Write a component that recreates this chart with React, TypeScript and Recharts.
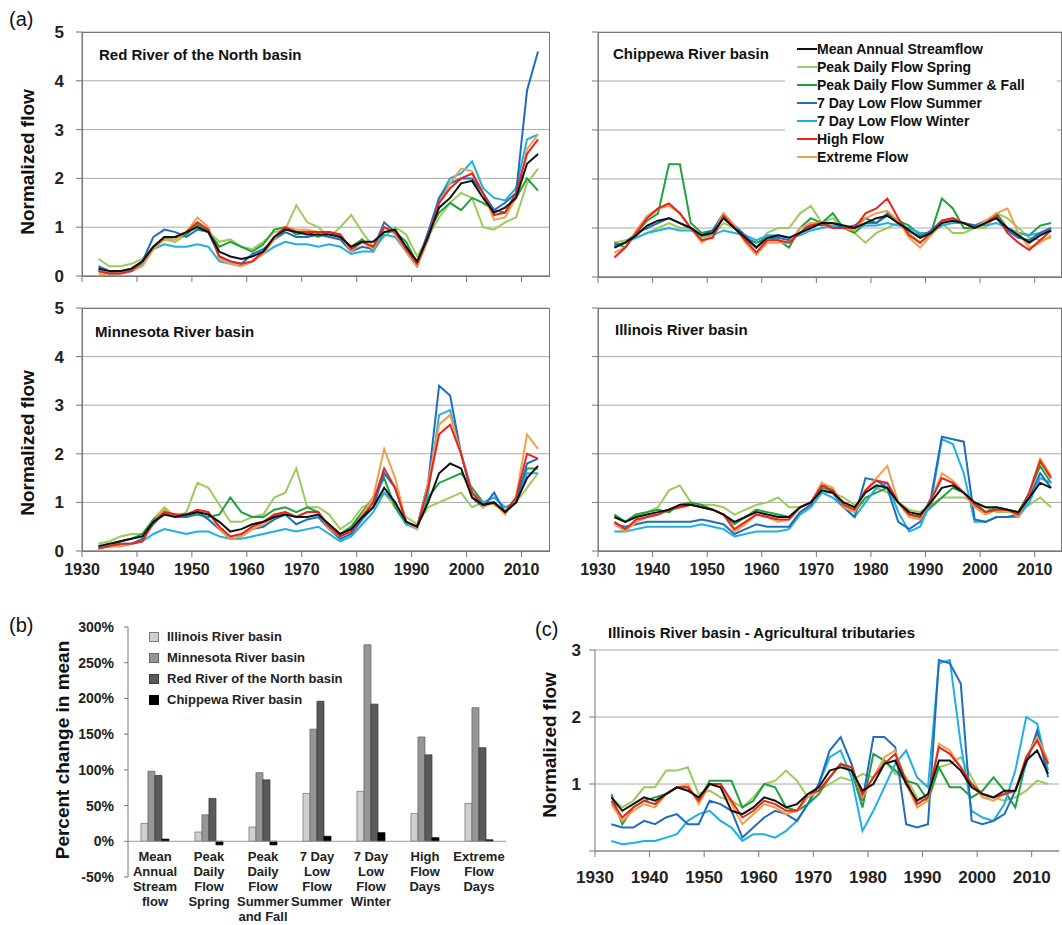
import React from "react";
import { LineChart, Line, XAxis, YAxis, CartesianGrid, BarChart, Bar, ReferenceLine } from "recharts";

const YEARS = Array.from({ length: 41 }, (_, i) => 1933 + i * 2);
const YEAR_TICKS = [1930, 1940, 1950, 1960, 1970, 1980, 1990, 2000, 2010];
const SERIES = ["Mean Annual Streamflow", "Peak Daily Flow Spring", "Peak Daily Flow Summer & Fall", "7 Day Low Flow Summer", "7 Day Low Flow Winter", "High Flow", "Extreme Flow"];
const KEYS = ["mean", "spring", "summerfall", "lowSummer", "lowWinter", "high", "extreme"];
const COLORS: Record<string, string> = {
  mean: "#111111", spring: "#9bcc5a", summerfall: "#1fa23c", lowSummer: "#1f6dbf",
  lowWinter: "#1cb0e8", high: "#e8241c", extreme: "#f0a04c",
};
const DRAW_ORDER = ["spring", "summerfall", "lowWinter", "lowSummer", "extreme", "high", "mean"];

// Red River of the North basin
const redMean = [0.15,0.1,0.1,0.15,0.3,0.6,0.8,0.8,0.9,1.0,0.9,0.5,0.4,0.35,0.4,0.5,0.8,0.95,0.9,0.85,0.85,0.85,0.8,0.6,0.7,0.7,0.9,0.95,0.6,0.3,0.8,1.4,1.6,1.9,1.95,1.6,1.3,1.4,1.6,2.3,2.5];
const redSpring = [0.35,0.2,0.2,0.25,0.35,0.6,0.75,0.7,0.85,1.1,0.9,0.7,0.75,0.6,0.55,0.7,0.9,0.95,1.45,1.1,1.0,0.8,1.0,1.25,0.9,0.6,0.8,1.0,0.85,0.4,0.8,1.2,1.5,1.7,1.6,1.0,0.95,1.1,1.2,1.9,2.2];
const redSummerFall = [0.1,0.05,0.1,0.15,0.3,0.6,0.75,0.8,0.85,1.05,0.9,0.6,0.7,0.6,0.5,0.65,0.95,1.0,0.85,0.9,0.8,0.9,0.8,0.6,0.75,0.5,0.9,0.9,0.7,0.25,0.9,1.3,1.5,1.35,1.6,1.5,1.35,1.3,1.6,2.0,1.75];
const redLowSummer = [0.2,0.1,0.1,0.1,0.3,0.8,0.95,0.9,0.8,0.95,0.9,0.4,0.3,0.25,0.45,0.55,0.75,0.9,0.8,0.8,0.85,0.8,0.75,0.5,0.6,0.55,1.1,0.9,0.5,0.2,0.9,1.6,1.9,2.0,2.0,1.7,1.35,1.5,1.7,3.8,4.6];
const redLowWinter = [0.1,0.05,0.05,0.1,0.25,0.55,0.65,0.6,0.6,0.65,0.6,0.3,0.25,0.2,0.3,0.45,0.6,0.7,0.65,0.65,0.6,0.65,0.6,0.45,0.5,0.5,0.85,0.8,0.5,0.2,0.75,1.6,2.0,2.1,2.35,1.8,1.6,1.55,1.8,2.8,2.9];
const redHigh = [0.1,0.05,0.05,0.1,0.3,0.6,0.8,0.8,0.9,1.1,0.95,0.4,0.3,0.25,0.3,0.5,0.8,1.0,0.9,0.9,0.9,0.9,0.85,0.55,0.7,0.6,1.0,0.9,0.55,0.25,0.8,1.5,1.8,2.0,2.1,1.7,1.25,1.3,1.7,2.5,2.8];
const redExtreme = [0.05,0.0,0.05,0.1,0.2,0.55,0.75,0.75,0.9,1.2,1.0,0.35,0.25,0.2,0.3,0.45,0.75,1.0,0.95,0.95,0.9,0.9,0.85,0.5,0.7,0.55,1.0,0.85,0.5,0.2,0.75,1.5,1.9,2.2,2.15,1.7,1.15,1.2,1.6,2.6,2.9];

// Chippewa River basin
const chipMean = [0.6,0.7,0.85,1.05,1.15,1.2,1.1,1.0,0.85,0.9,1.2,1.0,0.8,0.6,0.8,0.85,0.8,0.9,1.0,1.1,1.1,1.05,1.0,1.1,1.2,1.25,1.1,0.95,0.8,0.9,1.1,1.15,1.1,1.0,1.1,1.2,1.0,0.85,0.7,0.85,0.95];
const chipSpring = [0.7,0.75,0.8,0.9,1.0,1.1,1.0,1.0,0.8,0.85,1.1,1.0,0.8,0.6,0.9,1.0,1.0,1.3,1.45,1.1,1.2,1.0,0.9,0.7,0.9,1.0,1.1,0.9,0.7,0.85,1.1,0.9,0.9,1.0,1.0,1.3,1.2,1.0,0.8,0.75,0.8];
const chipSummerFall = [0.7,0.6,0.9,1.15,1.3,2.3,2.3,1.1,0.9,0.95,1.2,1.0,0.8,0.7,0.8,0.75,0.6,1.0,1.2,1.1,1.3,1.0,0.9,1.1,1.1,1.25,1.15,1.05,0.85,0.9,1.6,1.4,1.0,1.0,1.1,1.3,1.0,0.9,0.85,1.05,1.1];
const chipLowSummer = [0.65,0.7,0.9,1.0,1.1,1.2,1.1,1.0,0.85,0.95,1.3,1.05,0.85,0.6,0.8,0.8,0.75,0.9,1.1,1.05,1.1,1.0,1.05,1.2,1.1,1.3,1.15,0.95,0.8,0.95,1.15,1.2,1.1,1.05,1.15,1.2,0.95,0.8,0.75,0.9,1.0];
const chipLowWinter = [0.6,0.7,0.8,0.9,0.95,1.0,0.95,0.95,0.85,0.85,0.95,0.9,0.85,0.75,0.85,0.85,0.8,0.85,0.95,1.0,1.05,1.0,1.0,1.05,1.05,1.1,1.05,1.0,0.9,0.9,1.05,1.1,1.1,1.05,1.05,1.1,1.0,0.9,0.85,0.9,0.95];
const chipHigh = [0.4,0.6,0.9,1.2,1.4,1.5,1.3,1.0,0.75,0.8,1.25,1.0,0.75,0.5,0.75,0.75,0.7,0.9,1.05,1.1,1.0,1.0,1.0,1.3,1.4,1.6,1.2,0.85,0.7,0.9,1.15,1.2,1.1,1.0,1.1,1.25,0.9,0.7,0.55,0.75,0.95];
const chipExtreme = [0.5,0.6,0.95,1.25,1.4,1.45,1.3,1.0,0.7,0.85,1.3,1.05,0.7,0.45,0.7,0.7,0.7,1.0,1.1,1.1,1.0,1.0,0.95,1.2,1.3,1.35,1.15,0.8,0.6,0.85,1.1,1.2,1.1,1.0,1.15,1.3,1.4,0.9,0.6,0.7,0.85];

// Minnesota River basin
const minnMean = [0.1,0.15,0.2,0.25,0.3,0.6,0.75,0.7,0.75,0.8,0.75,0.6,0.4,0.45,0.55,0.6,0.7,0.75,0.7,0.7,0.75,0.55,0.35,0.45,0.7,0.9,1.3,1.0,0.6,0.5,1.0,1.6,1.8,1.7,1.1,0.95,1.0,0.8,1.0,1.5,1.75];
const minnSpring = [0.15,0.2,0.3,0.35,0.35,0.65,0.9,0.7,0.8,1.4,1.3,0.95,0.6,0.6,0.7,0.75,1.1,1.2,1.7,0.9,0.9,0.75,0.45,0.6,0.9,1.0,1.2,0.9,0.7,0.55,0.9,1.0,1.1,1.2,0.9,1.0,0.95,0.8,1.0,1.3,1.6];
const minnSummerFall = [0.1,0.1,0.2,0.25,0.35,0.65,0.8,0.7,0.7,0.75,0.7,0.75,1.1,0.8,0.7,0.7,0.85,0.9,0.8,0.9,0.8,0.45,0.35,0.5,0.8,1.1,1.5,0.9,0.55,0.5,1.1,1.4,1.5,1.6,1.3,1.0,1.0,0.8,1.1,1.7,1.7];
const minnLowSummer = [0.05,0.1,0.1,0.15,0.25,0.55,0.8,0.75,0.7,0.8,0.65,0.45,0.25,0.3,0.45,0.5,0.65,0.75,0.55,0.65,0.7,0.45,0.25,0.35,0.65,0.9,1.6,1.3,0.6,0.5,1.4,3.4,3.2,2.0,1.1,0.9,1.2,0.8,1.0,1.8,1.9];
const minnLowWinter = [0.1,0.1,0.15,0.15,0.2,0.35,0.45,0.4,0.35,0.4,0.4,0.3,0.25,0.25,0.3,0.35,0.4,0.45,0.4,0.45,0.5,0.35,0.2,0.3,0.55,0.8,1.2,1.0,0.55,0.45,1.2,2.8,2.9,2.0,1.2,1.0,1.1,0.9,1.0,1.6,1.6];
const minnHigh = [0.05,0.1,0.15,0.15,0.2,0.6,0.8,0.75,0.75,0.85,0.8,0.5,0.3,0.35,0.5,0.6,0.75,0.8,0.7,0.8,0.8,0.5,0.3,0.4,0.7,1.0,1.7,1.3,0.6,0.5,1.3,2.4,2.6,2.0,1.2,0.95,1.0,0.8,1.1,2.0,1.9];
const minnExtreme = [0.05,0.1,0.1,0.15,0.2,0.6,0.85,0.7,0.75,0.85,0.8,0.45,0.25,0.3,0.45,0.55,0.7,0.8,0.7,0.8,0.8,0.45,0.3,0.4,0.75,1.1,2.1,1.5,0.6,0.45,1.4,2.6,2.8,2.0,1.2,0.9,1.0,0.75,1.1,2.4,2.1];

// Illinois River basin
const illMean = [0.7,0.6,0.7,0.75,0.8,0.85,0.95,0.95,0.9,0.85,0.75,0.6,0.7,0.8,0.75,0.7,0.7,0.9,1.0,1.25,1.2,1.0,0.9,1.2,1.35,1.3,1.0,0.8,0.75,1.0,1.3,1.35,1.2,1.0,0.9,0.9,0.85,0.8,1.1,1.4,1.3];
const illSpring = [0.7,0.6,0.75,0.8,0.9,1.25,1.35,1.0,0.95,0.95,0.9,0.75,0.85,0.95,1.0,1.1,0.9,0.9,1.0,1.2,1.2,1.1,0.95,1.0,1.3,1.2,1.0,0.85,0.8,0.95,1.1,1.1,1.1,1.0,0.9,0.8,0.8,0.8,0.95,1.1,0.9];
const illSummerFall = [0.75,0.6,0.75,0.8,0.85,0.8,0.95,1.0,0.95,0.85,0.75,0.55,0.7,0.85,0.8,0.75,0.7,0.9,1.0,1.3,1.25,0.9,0.8,1.1,1.2,1.3,1.0,0.75,0.7,0.9,1.1,1.3,1.2,1.0,0.8,0.9,0.85,0.8,1.2,1.75,1.4];
const illLowSummer = [0.55,0.5,0.55,0.6,0.6,0.6,0.6,0.6,0.65,0.6,0.55,0.35,0.45,0.55,0.5,0.5,0.5,0.8,0.95,1.4,1.2,0.9,0.7,1.5,1.45,1.3,0.6,0.45,0.6,1.1,2.35,2.3,2.25,0.65,0.6,0.7,0.7,0.75,1.1,1.6,1.3];
const illLowWinter = [0.4,0.4,0.45,0.5,0.5,0.5,0.5,0.5,0.55,0.5,0.45,0.3,0.35,0.4,0.4,0.4,0.45,0.75,0.9,1.2,1.1,0.9,0.7,1.0,1.3,1.4,0.8,0.4,0.5,1.0,2.3,2.2,1.6,0.6,0.6,0.7,0.7,0.7,1.0,1.5,1.4];
const illHigh = [0.6,0.45,0.65,0.7,0.75,0.85,0.9,0.95,0.9,0.85,0.75,0.45,0.6,0.75,0.7,0.65,0.65,0.9,1.0,1.35,1.25,0.95,0.85,1.25,1.45,1.4,1.0,0.75,0.7,1.05,1.5,1.4,1.2,0.95,0.8,0.85,0.85,0.75,1.2,1.85,1.5];
const illExtreme = [0.55,0.4,0.6,0.7,0.75,0.85,0.9,0.95,0.9,0.85,0.75,0.4,0.55,0.75,0.7,0.6,0.65,0.9,1.0,1.4,1.3,0.9,0.8,1.25,1.5,1.75,1.0,0.7,0.65,1.05,1.6,1.45,1.2,0.9,0.75,0.85,0.85,0.7,1.2,1.9,1.55];

// Illinois River basin - agricultural tributaries
const agMean = [0.8,0.6,0.7,0.8,0.75,0.85,0.95,0.9,0.8,1.0,0.95,0.6,0.55,0.65,0.8,0.75,0.65,0.7,0.85,0.95,1.2,1.25,1.2,0.9,1.0,1.3,1.35,1.0,0.75,0.85,1.35,1.35,1.2,0.95,0.85,0.8,0.9,0.9,1.35,1.5,1.15];
const agSpring = [0.8,0.65,0.75,0.95,0.95,1.2,1.2,1.25,0.85,0.9,0.8,0.75,0.65,0.8,1.0,1.05,1.2,1.05,0.8,0.9,1.0,1.1,1.05,1.15,1.1,1.35,1.15,1.1,0.8,0.75,1.25,1.3,1.4,1.1,0.8,0.8,0.75,0.8,0.9,1.05,1.0];
const agSummerFall = [0.85,0.4,0.65,0.75,0.8,0.85,0.95,0.95,0.75,1.05,1.05,1.05,0.65,0.75,1.0,0.95,0.65,0.6,0.7,0.85,1.1,1.3,1.2,0.65,1.45,1.35,1.2,1.05,1.0,0.75,1.25,0.95,0.95,0.8,0.9,1.1,0.9,0.65,1.35,1.75,1.3];
const agLowSummer = [0.4,0.35,0.35,0.45,0.4,0.5,0.55,0.4,0.4,0.75,0.7,0.6,0.2,0.35,0.5,0.6,0.55,0.45,0.7,1.0,1.5,1.7,1.3,0.75,1.7,1.7,1.55,0.4,0.35,0.4,2.85,2.8,2.5,0.45,0.4,0.45,0.55,0.9,1.3,1.8,1.1];
const agLowWinter = [0.15,0.1,0.12,0.15,0.15,0.2,0.25,0.45,0.55,0.6,0.45,0.35,0.15,0.25,0.25,0.2,0.3,0.45,0.7,1.0,1.4,1.5,1.1,0.3,0.6,0.95,1.3,1.5,1.1,0.95,2.8,2.85,1.6,0.6,0.5,0.45,0.7,1.2,2.0,1.9,1.2];
const agHigh = [0.75,0.5,0.65,0.75,0.7,0.85,0.95,0.95,0.75,1.0,1.0,0.75,0.5,0.6,0.75,0.7,0.6,0.6,0.85,0.9,1.1,1.3,1.25,0.85,1.1,1.3,1.45,1.05,0.7,0.8,1.55,1.45,1.25,1.0,0.85,0.8,0.85,0.9,1.4,1.65,1.3];
const agExtreme = [0.7,0.45,0.6,0.7,0.65,0.85,0.95,1.0,0.7,1.0,1.0,0.7,0.4,0.55,0.7,0.65,0.55,0.6,0.8,0.9,1.1,1.3,1.25,0.8,1.1,1.4,1.5,1.0,0.65,0.75,1.6,1.5,1.25,1.0,0.8,0.75,0.85,0.9,1.4,1.7,1.35];

// Panel (b)
const CATEGORIES = [
  ["Mean", "Annual", "Stream", "flow"],
  ["Peak", "Daily", "Flow", "Spring"],
  ["Peak", "Daily", "Flow", "Summer", "and Fall"],
  ["7 Day", "Low", "Flow", "Summer"],
  ["7 Day", "Low", "Flow", "Winter"],
  ["High", "Flow", "Days"],
  ["Extreme", "Flow", "Days"],
];
const illinoisPct = [25, 13, 20, 67, 70, 39, 53];
const minnesotaPct = [98, 37, 96, 157, 275, 146, 187];
const redPct = [92, 60, 86, 196, 192, 121, 131];
const chippewaPct = [3, -5, -5, 7, 12, 5, 2];
const BAR_SERIES = [
  { key: "illinois", name: "Illinois River basin", fill: "#d0d0d0", stroke: "#7a7a7a" },
  { key: "minnesota", name: "Minnesota River basin", fill: "#969696", stroke: "#666" },
  { key: "red", name: "Red River of the North basin", fill: "#5a5a5a", stroke: "#3a3a3a" },
  { key: "chippewa", name: "Chippewa River basin", fill: "#000000", stroke: "#000000" },
];

const FONT = "'Liberation Sans', Arial, sans-serif";

function rows(series: number[][]) {
  return YEARS.map((year, i) => {
    const r: Record<string, number> = { year };
    KEYS.forEach((k, j) => (r[k] = series[j][i]));
    return r;
  });
}

const redRows = rows([redMean, redSpring, redSummerFall, redLowSummer, redLowWinter, redHigh, redExtreme]);
const chipRows = rows([chipMean, chipSpring, chipSummerFall, chipLowSummer, chipLowWinter, chipHigh, chipExtreme]);
const minnRows = rows([minnMean, minnSpring, minnSummerFall, minnLowSummer, minnLowWinter, minnHigh, minnExtreme]);
const illRows = rows([illMean, illSpring, illSummerFall, illLowSummer, illLowWinter, illHigh, illExtreme]);
const agRows = rows([agMean, agSpring, agSummerFall, agLowSummer, agLowWinter, agHigh, agExtreme]);
const barRows = CATEGORIES.map((c, i) => ({
  name: c.join(" "), illinois: illinoisPct[i], minnesota: minnesotaPct[i], red: redPct[i], chippewa: chippewaPct[i],
}));

const tickStyle = { fontSize: 16, fontWeight: 700, fill: "#222", fontFamily: FONT };
const axisStroke = { stroke: "#777" };

function Lines() {
  return DRAW_ORDER.map((k) => (
    <Line key={k} dataKey={k} stroke={COLORS[k]} strokeWidth={2} dot={false} isAnimationActive={false} type="linear" />
  ));
}

type PanelProps = {
  data: Record<string, number>[]; left: number; top: number; width: number; height: number;
  yLabels: boolean; xLabels: boolean; margin: { top: number; right: number; bottom: number; left: number };
};

function FlowPanel({ data, left, top, width, height, yLabels, xLabels, margin }: PanelProps) {
  return (
    <div style={{ position: "absolute", left, top }}>
      <LineChart width={width} height={height} data={data} margin={margin}>
        <CartesianGrid vertical={false} stroke="#a8a8a8" />
        <XAxis dataKey="year" type="number" domain={[1930, 2015]} ticks={YEAR_TICKS} height={xLabels ? 35 : 20}
          tick={tickStyle} tickFormatter={(v) => (xLabels ? String(v) : "")} tickSize={6} tickMargin={7}
          tickLine={axisStroke} axisLine={axisStroke} allowDataOverflow />
        <YAxis domain={[0, 5]} ticks={[0, 1, 2, 3, 4, 5]} width={yLabels ? 40 : 10} tick={{ ...tickStyle, fontSize: 17 }}
          tickFormatter={(v) => (yLabels ? String(v) : "")} tickSize={6} tickMargin={12}
          tickLine={axisStroke} axisLine={axisStroke} />
        {Lines()}
      </LineChart>
    </div>
  );
}

function Frame({ left, top, width, height }: { left: number; top: number; width: number; height: number }) {
  return <div style={{ position: "absolute", left, top, width, height, border: "1px solid #777", boxSizing: "border-box", pointerEvents: "none" }} />;
}

function Title({ left, top, text }: { left: number; top: number; text: string }) {
  return <div style={{ position: "absolute", left, top, fontSize: 15, fontWeight: 700, fontFamily: FONT, color: "#111", whiteSpace: "nowrap" }}>{text}</div>;
}

function VLabel({ x, y, text }: { x: number; y: number; text: string }) {
  return (
    <div style={{ position: "absolute", left: x, top: y, transform: "translate(-50%,-50%) rotate(-90deg)", whiteSpace: "nowrap",
      fontSize: 19, fontWeight: 700, fontFamily: FONT, color: "#111" }}>{text}</div>
  );
}

function CategoryTick(props: any) {
  const { x, index } = props;
  const lines = CATEGORIES[index] || [];
  return (
    <text x={x} y={246} textAnchor="middle" fontSize={13} fontWeight={700} fill="#222" fontFamily={FONT}>
      {lines.map((l, i) => <tspan key={i} x={x} dy={i === 0 ? 0 : 15}>{l}</tspan>)}
    </text>
  );
}

export default function App() {
  return (
    <div style={{ position: "absolute", left: 0, top: 0, width: 1062, height: 925, background: "#fff", fontFamily: FONT, overflow: "hidden" }}>
      <FlowPanel data={redRows} left={0} top={0} width={551} height={296} yLabels xLabels={false} margin={{ top: 32, right: 2, bottom: 0, left: 42 }} />
      <FlowPanel data={chipRows} left={560} top={0} width={502} height={297} yLabels={false} xLabels={false} margin={{ top: 32, right: 0, bottom: 0, left: 28 }} />
      <FlowPanel data={minnRows} left={0} top={290} width={551} height={296} yLabels xLabels margin={{ top: 18, right: 2, bottom: 0, left: 42 }} />
      <FlowPanel data={illRows} left={560} top={290} width={502} height={296} yLabels={false} xLabels margin={{ top: 18, right: 0, bottom: 0, left: 28 }} />
      <Frame left={82} top={32} width={468} height={245} />
      <Frame left={598} top={32} width={464} height={246} />
      <Frame left={82} top={308} width={468} height={244} />
      <Frame left={598} top={308} width={464} height={244} />
      <Title left={99} top={46} text="Red River of the North basin" />
      <Title left={613} top={45} text="Chippewa River basin" />
      <Title left={95} top={323} text="Minnesota River basin" />
      <Title left={615} top={321} text="Illinois River basin" />
      <VLabel x={28} y={162} text="Normalized flow" />
      <VLabel x={28} y={443} text="Normalized flow" />

      <div style={{ position: "absolute", left: 785, top: 38, width: 272, height: 128, background: "#fff", paddingTop: 2, boxSizing: "border-box" }}>
        {KEYS.map((k, i) => (
          <div key={k} style={{ display: "flex", alignItems: "center", height: 18, paddingLeft: 12 }}>
            <div style={{ width: 20, height: 2, background: COLORS[k] }} />
            <span style={{ fontSize: 14, fontWeight: 700, color: "#111", whiteSpace: "nowrap" }}>{SERIES[i]}</span>
          </div>
        ))}
      </div>

      <div style={{ position: "absolute", left: 9, top: 8, fontSize: 20, color: "#111" }}>(a)</div>
      <div style={{ position: "absolute", left: 9, top: 614, fontSize: 20, color: "#111" }}>(b)</div>
      <div style={{ position: "absolute", left: 535, top: 618, fontSize: 20, color: "#111" }}>(c)</div>

      {/* (b) percent change bars */}
      <div style={{ position: "absolute", left: 0, top: 615 }}>
        <BarChart width={506} height={310} data={barRows} margin={{ top: 12, right: 0, bottom: 0, left: 0 }} barCategoryGap="24%" barGap={0}>
          <XAxis dataKey="name" height={48} tick={<CategoryTick />} tickLine={false} axisLine={false} interval={0} />
          <YAxis domain={[-50, 300]} ticks={[-50, 0, 50, 100, 150, 200, 250, 300]} width={128} tickFormatter={(v) => `${v}%`}
            tick={{ ...tickStyle, fontSize: 14 }} tickSize={4} tickMargin={10} tickLine={axisStroke} axisLine={axisStroke} />
          <ReferenceLine y={0} stroke="#999" />
          {BAR_SERIES.map((s) => (
            <Bar key={s.key} dataKey={s.key} fill={s.fill} stroke={s.stroke} strokeWidth={0.8} isAnimationActive={false} />
          ))}
        </BarChart>
      </div>
      <VLabel x={63} y={750} text="Percent change in mean" />
      <div style={{ position: "absolute", left: 149, top: 626 }}>
        {BAR_SERIES.map((s) => (
          <div key={s.key} style={{ display: "flex", alignItems: "center", height: 21 }}>
            <div style={{ width: 8, height: 8, background: s.fill, border: `1px solid ${s.stroke}`, marginRight: 8 }} />
            <span style={{ fontSize: 13, fontWeight: 700, color: "#222", whiteSpace: "nowrap", fontFamily: "'Liberation Sans Narrow', 'Liberation Sans', Arial, sans-serif" }}>{s.name}</span>
          </div>
        ))}
      </div>

      {/* (c) agricultural tributaries */}
      <div style={{ position: "absolute", left: 530, top: 600 }}>
        <LineChart width={532} height={291} data={agRows} margin={{ top: 50, right: 3, bottom: 0, left: 25 }}>
          <CartesianGrid vertical={false} stroke="#a8a8a8" />
          <XAxis dataKey="year" type="number" domain={[1930, 2015]} ticks={YEAR_TICKS} height={40}
            tick={{ ...tickStyle, fontSize: 17 }} tickSize={6} tickMargin={14} tickLine={axisStroke} axisLine={axisStroke} allowDataOverflow />
          <YAxis domain={[0, 3]} ticks={[0, 1, 2, 3]} width={40} tick={{ ...tickStyle, fontSize: 17 }}
            tickFormatter={(v) => (v === 0 ? "" : String(v))} tickSize={6} tickMargin={8} tickLine={axisStroke} axisLine={axisStroke} />
          {Lines()}
        </LineChart>
      </div>
      <Title left={608} top={624} text="Illinois River basin - Agricultural tributaries" />
      <VLabel x={550} y={745} text="Normalized flow" />
    </div>
  );
}
